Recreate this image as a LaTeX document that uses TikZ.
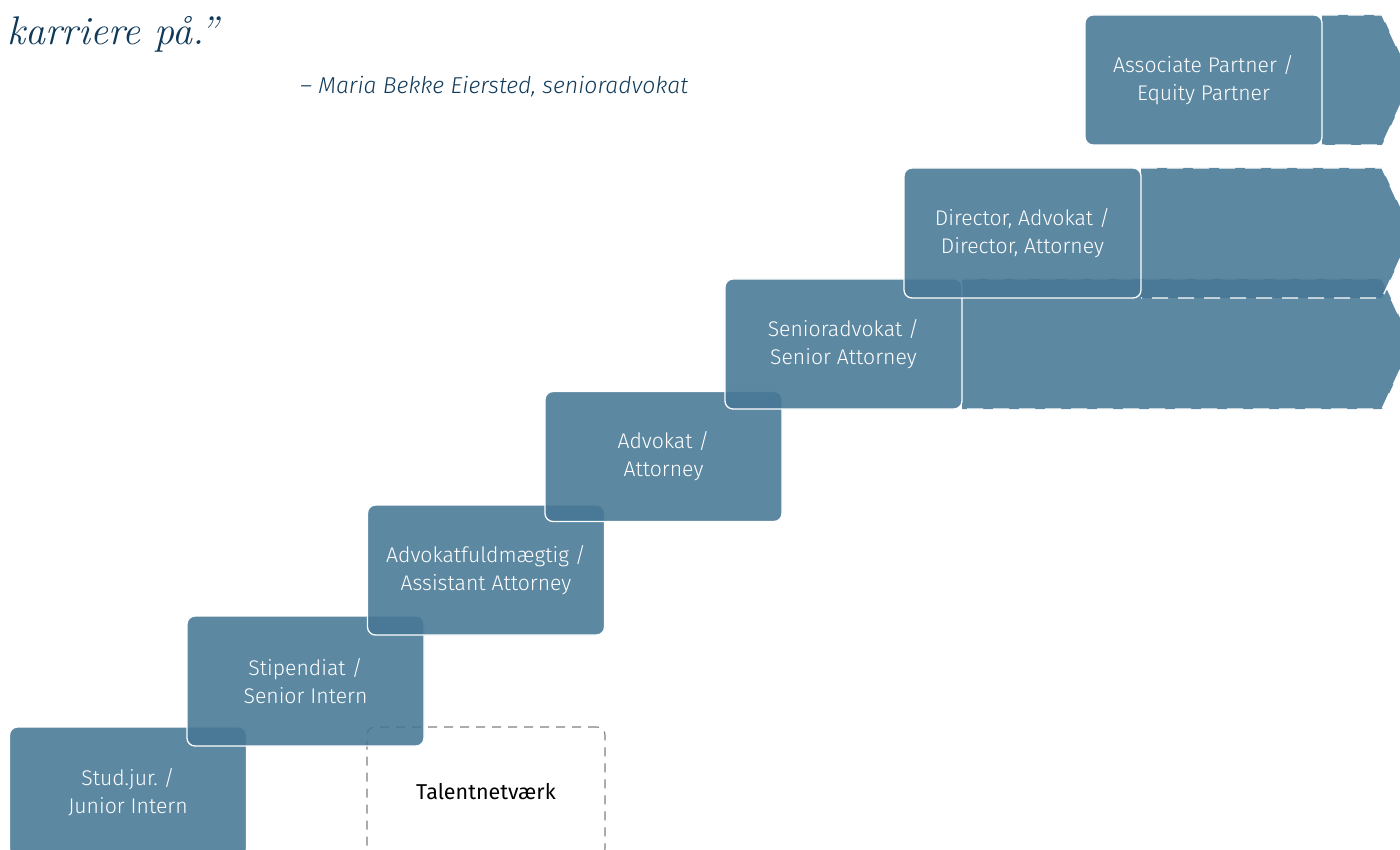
\documentclass[tikz,border=0pt]{standalone}
\usepackage{fontspec}
\newfontfamily\boxfont{Fira Sans Light}
\newfontfamily\talentfont{Fira Sans}
\newfontfamily\boxfontit{Fira Sans Light Italic}
\usetikzlibrary{calc}
\definecolor{stepfill}{RGB}{70,119,148}
\definecolor{navy}{RGB}{16,58,90}
\definecolor{dashgray}{RGB}{128,128,128}
\frenchspacing
\begin{document}
\begin{tikzpicture}[x=1pt,y=-1pt,
  stepbox/.style={rounded corners=8pt, fill=stepfill, fill opacity=0.88, text opacity=1,
    draw=white, line width=1.3pt, minimum width=237pt, minimum height=130pt,
    inner sep=0pt, text=white, align=center, font=\boxfont\fontsize{21.2}{28}\selectfont},
  chevfill/.style={fill=stepfill, fill opacity=0.88},
  chevline/.style={draw=white, line width=1.3pt, dash pattern=on 16pt off 10pt},
  talentbox/.style={rounded corners=8pt, draw=dashgray, line width=1.1pt,
    dash pattern=on 9pt off 7pt, minimum width=238pt, minimum height=130pt,
    inner sep=0pt, text=black, font=\talentfont\fontsize{21.5}{28}\selectfont},
  quotetext/.style={text=navy, inner sep=0pt, anchor=base west}
]
\useasboundingbox (0,0) rectangle (1400,850);
\clip (0,0) rectangle (1400,850);

% quote
\node[quotetext, font=\fontsize{40}{40}\selectfont\itshape] (q1) at (7,45) {karriere på.”};
\node[quotetext, font=\boxfontit\fontsize{23}{27}\selectfont] (q2) at (300,94) {– Maria Bekke Eiersted, senioradvokat};

% talent network box
\node[talentbox] (tn) at (486,792) {Talentnetværk};

% steps
\node[stepbox] (b1) at (128,792) {Stud.jur. /\\Junior Intern};
\node[stepbox] (b2) at (305.5,681) {Stipendiat /\\Senior Intern};
\node[stepbox] (b3) at (486,570) {Advokatfuldmægtig /\\Assistant Attorney};
\node[stepbox] (b4) at (663.5,456.5) {Advokat /\\Attorney};

% senior arrow
\coordinate (a5t) at (1382,279);
\coordinate (a5p) at (1412,344);
\coordinate (a5b) at (1382,409);
\fill[chevfill] (962,279) -- (a5t) -- (a5p) -- (a5b) -- (962,409) -- cycle;
\draw[chevline] (962,279) -- (a5t) -- (a5p) -- (a5b) -- (962,409);
\node[stepbox] (b5) at (843.5,344) {Senioradvokat /\\Senior Attorney};

% director arrow
\coordinate (a6t) at (1382,168);
\coordinate (a6p) at (1412,233);
\coordinate (a6b) at (1382,298);
\fill[chevfill] (1141,168) -- (a6t) -- (a6p) -- (a6b) -- (1141,298) -- cycle;
\draw[chevline] (1141,168) -- (a6t) -- (a6p) -- (a6b) -- (1141,298);
\node[stepbox] (b6) at (1022.5,233) {Director, Advokat /\\Director, Attorney};

% partner arrow
\coordinate (a7t) at (1382,15);
\coordinate (a7p) at (1412,80);
\coordinate (a7b) at (1382,145);
\fill[chevfill] (1322,15) -- (a7t) -- (a7p) -- (a7b) -- (1322,145) -- cycle;
\draw[chevline] (1322,15) -- (a7t) -- (a7p) -- (a7b) -- (1322,145);
\node[stepbox] (b7) at (1203.5,80) {Associate Partner /\\Equity Partner};
\end{tikzpicture}
\end{document}
